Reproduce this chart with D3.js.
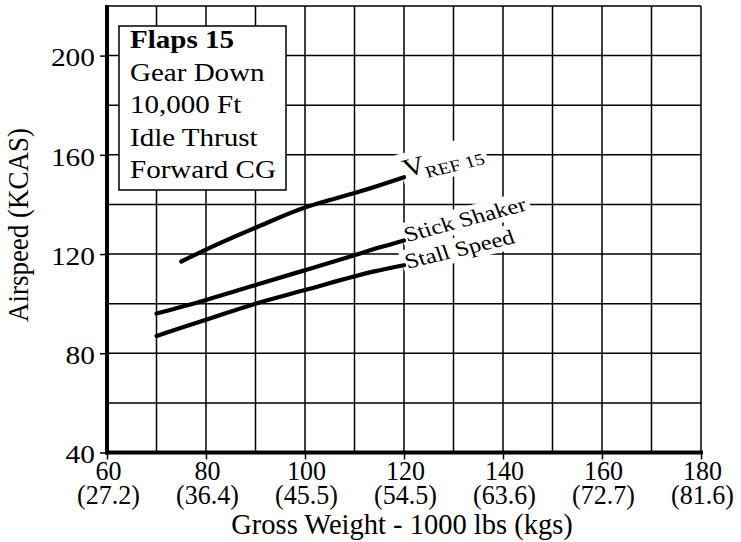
<!DOCTYPE html>
<html>
<head>
<meta charset="utf-8">
<script src="https://cdn.jsdelivr.net/npm/d3@7"></script>
<style>
  html, body { margin: 0; padding: 0; background: #fff; }
  svg { display: block; }
  text { font-family: "Liberation Serif", "Times New Roman", serif; fill: #000; }
</style>
</head>
<body>
<script>
// ---------- data ----------
const xTicks = [60, 80, 100, 120, 140, 160, 180];
const kgLabels = ["(27.2)", "(36.4)", "(45.5)", "(54.5)", "(63.6)", "(72.7)", "(81.6)"];
const yTicks = [40, 80, 120, 160, 200];
const vrefWeights = [75, 80, 90, 100, 105, 110, 120];
const vrefSpeeds  = [117, 121.8, 130.6, 138.8, 141.8, 144.6, 151];
const shakerWeights = [70, 80, 90, 100, 110, 115, 120];
const shakerSpeeds  = [96, 101.5, 107.5, 113.5, 119.5, 122.6, 125.5];
const stallWeights = [70, 80, 90, 100, 110, 114, 120];
const stallSpeeds  = [87, 93.5, 100, 105.5, 111, 113, 115.5];
const boxLines = ["Flaps 15", "Gear Down", "10,000 Ft", "Idle Thrust", "Forward CG"];
const xTitle = "Gross Weight - 1000 lbs (kgs)";
const yTitle = "Airspeed (KCAS)";

// ---------- layout ----------
const W = 741, H = 542;
const SX = 1.2; // horizontal stretch of some texts in the reference
const x = d3.scaleLinear().domain([60, 180]).range([107, 701]);
const y = d3.scaleLinear().domain([40, 220]).range([452.5, 6]);

const svg = d3.select("body").append("svg").attr("width", W).attr("height", H);

// grid
const grid = svg.append("g").attr("stroke", "#000").attr("stroke-width", 1.5);
grid.selectAll("line.v").data(d3.range(70, 181, 10)).join("line")
  .attr("x1", d => x(d)).attr("x2", d => x(d)).attr("y1", y(40)).attr("y2", y(220));
grid.selectAll("line.h").data(d3.range(60, 221, 20)).join("line")
  .attr("x1", x(60)).attr("x2", x(180)).attr("y1", d => y(d)).attr("y2", d => y(d));

const bgLayer = svg.append("g");
const lineLayer = svg.append("g");
const labelLayer = svg.append("g");

// curves
const series = [
  { w: vrefWeights, s: vrefSpeeds },
  { w: shakerWeights, s: shakerSpeeds },
  { w: stallWeights, s: stallSpeeds }
];
const lineGen = d3.line().x(d => x(d[0])).y(d => y(d[1])).curve(d3.curveMonotoneX);
series.forEach(sr => {
  lineLayer.append("path")
    .attr("d", lineGen(sr.w.map((w, i) => [w, sr.s[i]])))
    .attr("fill", "none").attr("stroke", "#000").attr("stroke-width", 4.2)
    .attr("stroke-linecap", "round").attr("stroke-linejoin", "round");
});

// curve labels with white background
function curveLabel(wArr, sArr, dx, dy, ang, build) {
  const lx = x(wArr[wArr.length - 1]) + dx, ly = y(sArr[sArr.length - 1]) + dy;
  const tf = `translate(${lx},${ly}) scale(${SX},1) rotate(${-ang})`;
  const g = labelLayer.append("g").attr("transform", tf);
  const t = g.append("text");
  build(t);
  const bb = t.node().getBBox();
  const pad = 3;
  bgLayer.append("rect").attr("transform", tf)
    .attr("x", bb.x - pad).attr("y", bb.y - 1).attr("width", bb.width + 2 * pad).attr("height", bb.height + 2)
    .attr("fill", "#fff");
}
curveLabel(vrefWeights, vrefSpeeds, 2, 0, 16.5, t => {
  t.attr("font-size", 25.5).text("V");
  t.append("tspan").attr("font-size", 16.5).attr("dx", -1.5).attr("dy", 6).text("REF 15");
});
curveLabel(shakerWeights, shakerSpeeds, 3, 1.5, 17.5, t => {
  t.attr("font-size", 20.8).text("Stick Shaker");
});
curveLabel(stallWeights, stallSpeeds, 3.5, 3.5, 16, t => {
  t.attr("font-size", 20.8).text("Stall Speed");
});

// axes ticks
const yAxis = d3.axisLeft(y).tickValues(yTicks).tickSize(7).tickFormat("");
const gy = svg.append("g").attr("transform", `translate(${x(60)},0)`).call(yAxis);
gy.select(".domain").remove();
gy.selectAll(".tick line").attr("stroke", "#000").attr("stroke-width", 1.5);

const xAxis = d3.axisBottom(x).tickValues(xTicks).tickSize(7).tickFormat("");
const gx = svg.append("g").attr("transform", `translate(0,${y(40)})`).call(xAxis);
gx.select(".domain").remove();
gx.selectAll(".tick line").attr("stroke", "#000").attr("stroke-width", 1.5);

// thick axis lines
svg.append("line").attr("x1", x(60)).attr("x2", x(60)).attr("y1", y(220) - 1).attr("y2", y(40) + 2)
  .attr("stroke", "#000").attr("stroke-width", 4);
svg.append("line").attr("x1", x(60) - 2).attr("x2", x(180) + 2).attr("y1", y(40)).attr("y2", y(40))
  .attr("stroke", "#000").attr("stroke-width", 4);

// y tick labels
svg.append("g").selectAll("text").data(yTicks).join("text")
  .attr("transform", d => `translate(95,${y(d) + 10.7}) scale(${SX},1)`)
  .attr("text-anchor", "end").attr("font-size", 24.5).text(d => d);

// x tick labels: two lines (lbs / kgs) in one text element
const xl = svg.append("g").selectAll("text").data(xTicks).join("text")
  .attr("transform", d => `translate(${x(d) + 1.5},480) scale(1,1.06)`)
  .attr("text-anchor", "middle").attr("font-size", 26);
xl.append("tspan").attr("x", 0).attr("y", 0).text(d => d);
xl.append("tspan").attr("x", 0).attr("y", 22.6).text((d, i) => kgLabels[i]);

// axis titles
svg.append("text").attr("x", 402).attr("y", 534).attr("text-anchor", "middle")
  .attr("font-size", 28.5).text(xTitle);
svg.append("text").attr("transform", "translate(28,225) rotate(-90) scale(1,1.1)")
  .attr("text-anchor", "middle").attr("font-size", 27).text(yTitle);

// info box
svg.append("rect").attr("x", 119).attr("y", 26).attr("width", 167).attr("height", 164)
  .attr("fill", "#fff").attr("stroke", "#000").attr("stroke-width", 1.5);
svg.append("g").selectAll("text").data(boxLines).join("text")
  .attr("transform", (d, i) => `translate(130,${48 + i * 32.5}) scale(${SX},1)`)
  .attr("font-size", 24.2).attr("font-weight", (d, i) => i === 0 ? "bold" : "normal")
  .text(d => d);
</script>
</body>
</html>
